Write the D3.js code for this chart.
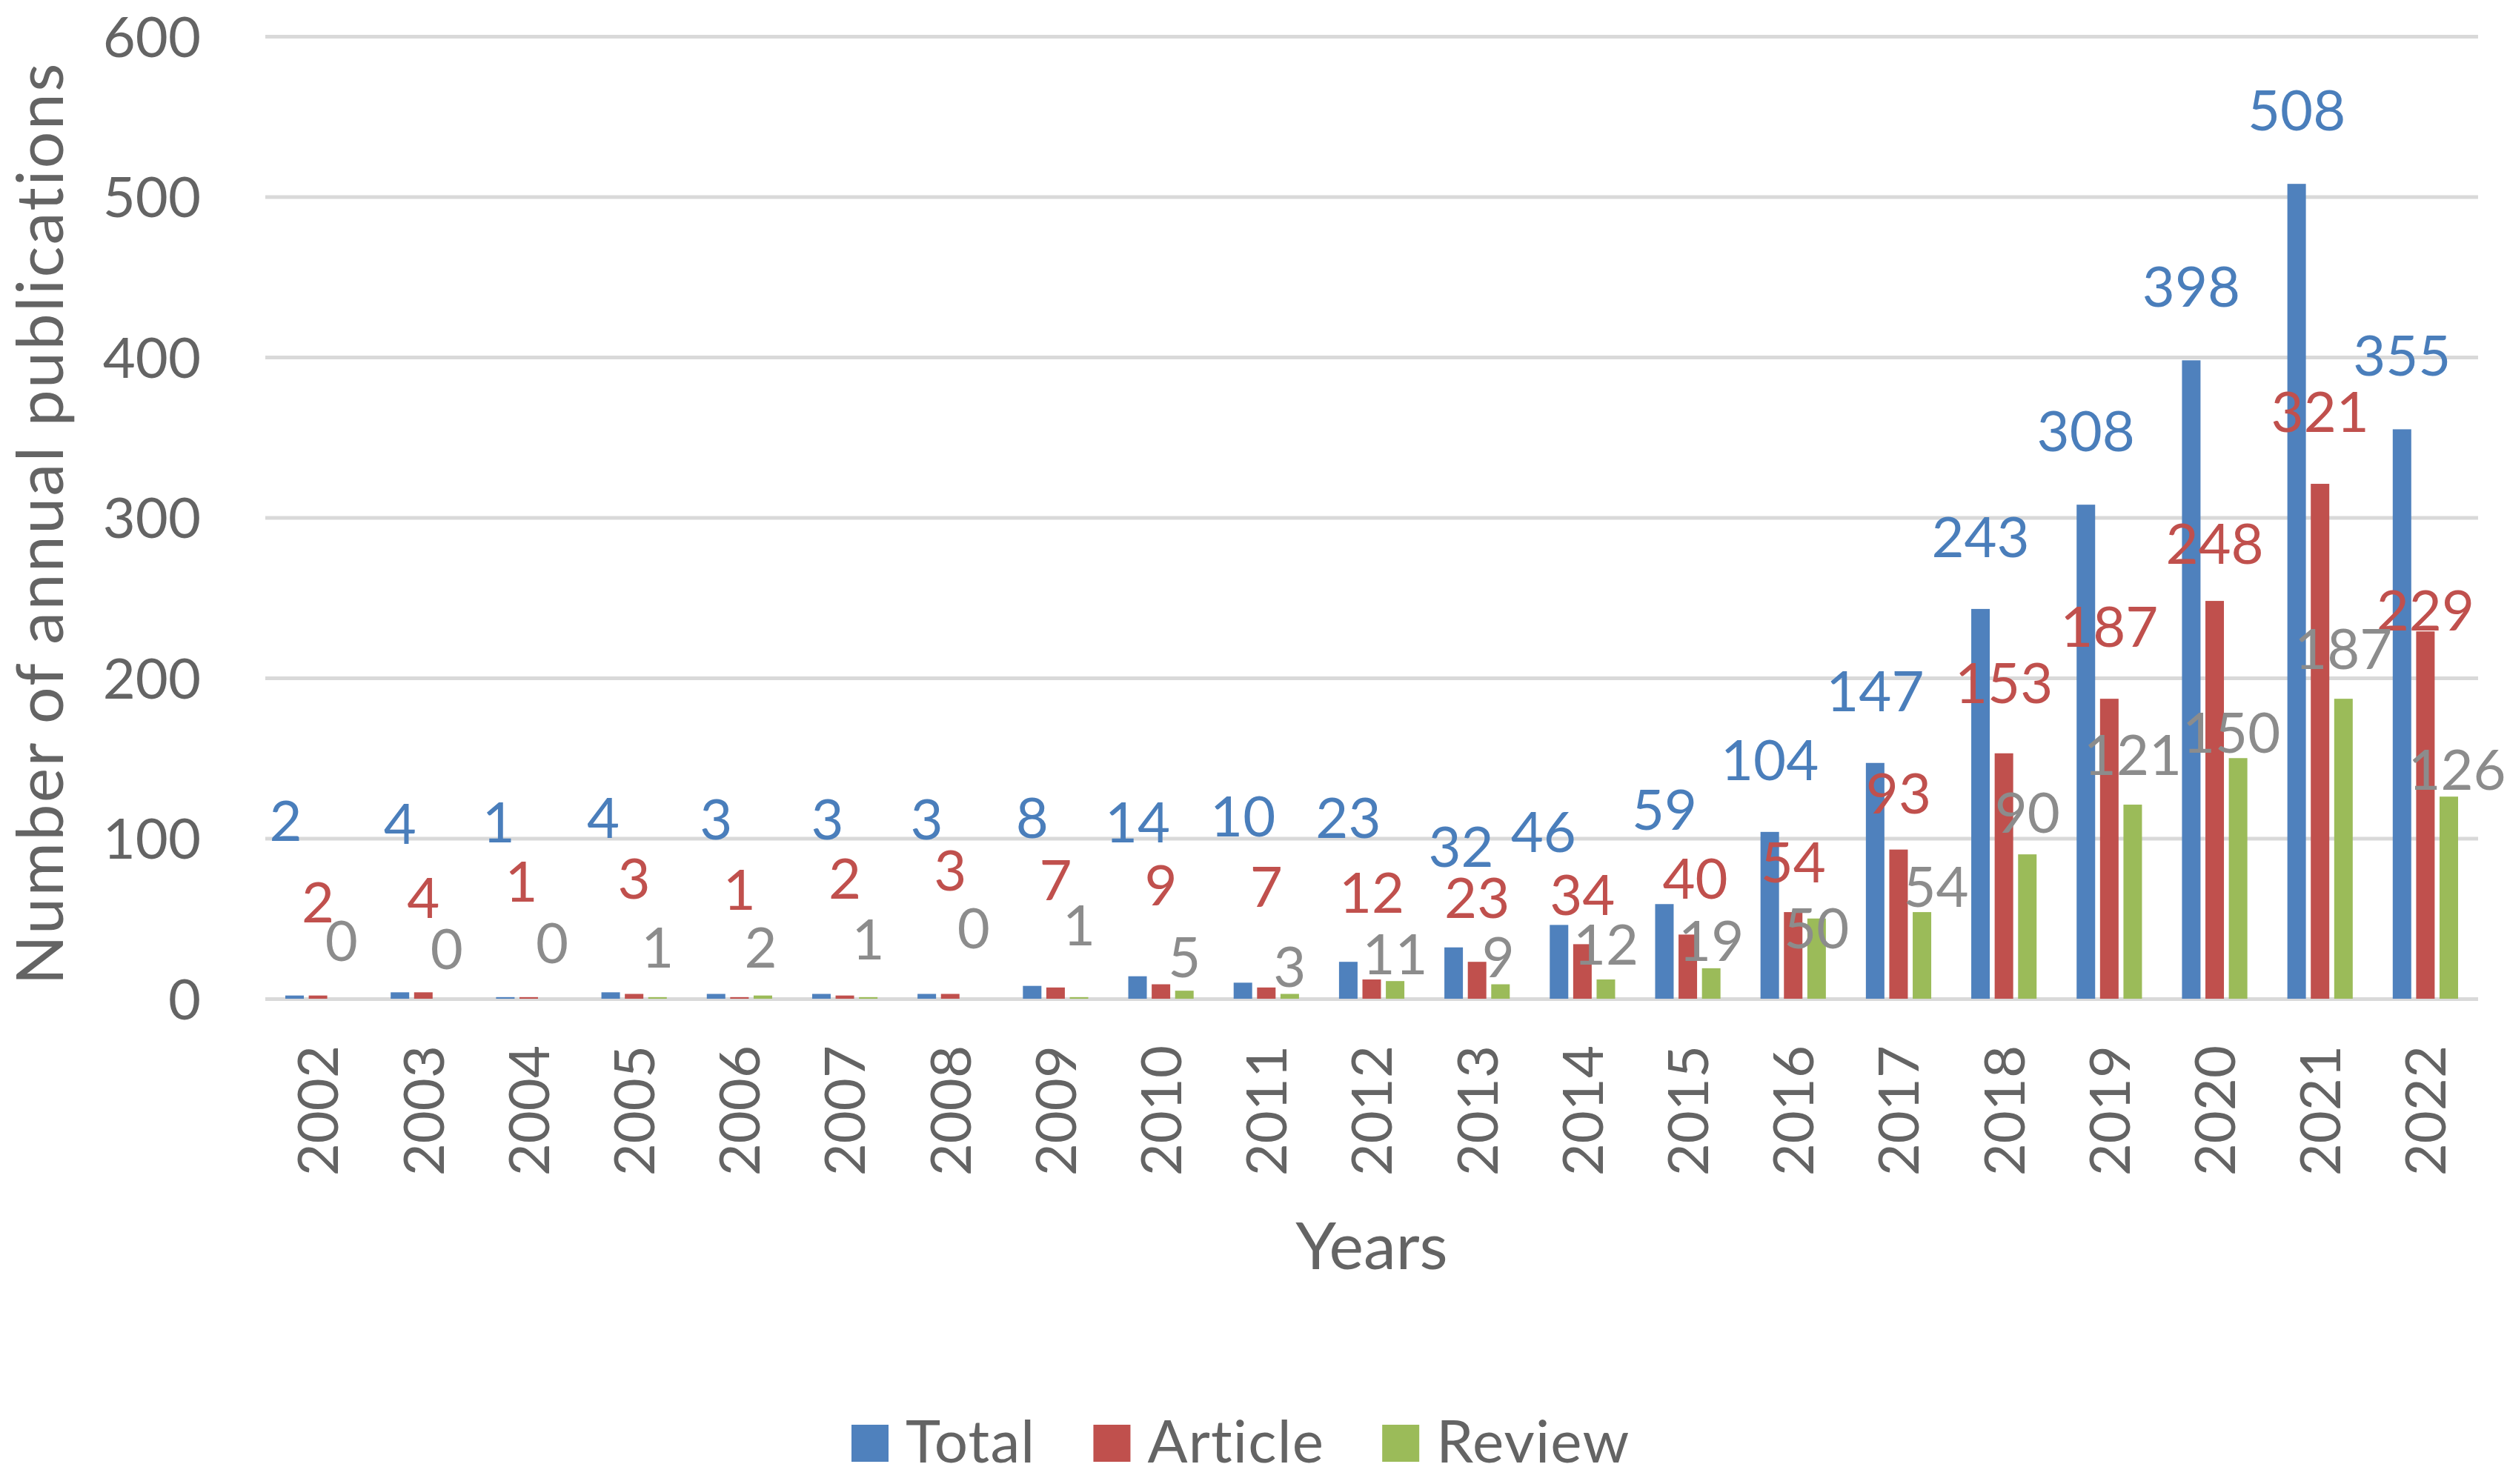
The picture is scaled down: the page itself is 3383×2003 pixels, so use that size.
<!DOCTYPE html>
<html>
<head>
<meta charset="utf-8">
<script src="https://cdn.jsdelivr.net/npm/d3@7/dist/d3.min.js"></script>
<style>
  html, body { margin: 0; padding: 0; background: #ffffff; }
  svg { display: block; }
  text { font-family: Lato, "Open Sans", "DejaVu Sans", sans-serif; }
</style>
</head>
<body>
<script>
// ---------------- data ----------------
const years = ["2002","2003","2004","2005","2006","2007","2008","2009","2010","2011","2012",
               "2013","2014","2015","2016","2017","2018","2019","2020","2021","2022"];
const totalValues   = [2,4,1,4,3,3,3,8,14,10,23,32,46,59,104,147,243,308,398,508,355];
const articleValues = [2,4,1,3,1,2,3,7,9,7,12,23,34,40,54,93,153,187,248,321,229];
const reviewValues  = [0,0,0,1,2,1,0,1,5,3,11,9,12,19,50,54,90,121,150,187,126];
const seriesNames   = ["Total","Article","Review"];
const yTicks        = [0,100,200,300,400,500,600];

// label anchor heights (in axis units) as the labels were placed in the original
const totalLabelAt   = [111,109,110,113,112,112,112,113,110,114,113,95,104,118,149,192,288,354,444,554,401];
const articleLabelAt = [60,63,73,75,68,75,80,74,71,70,66,63,65,75,85,128,197,232,284,366,242];
const reviewLabelAt  = [36,31,35,32,32,37,44,46,26,20,28,26,34,36,44,70,116,152,166,218,143];
// small horizontal nudges of individual labels (px)
const totalNudge   = [-12,0,-9,-10,0,8,0,0,0,0,0,10,-21,0,0,0,0,0,0,0,0];
const articleNudge = [0,0,-10,0,0,0,0,0,0,0,0,0,0,10,0,0,0,0,0,0,0];
const reviewNudge  = [0,0,0,0,-3,0,0,0,0,0,0,-3,0,0,0,19,0,0,-9,0,11];

// ---------------- layout / style ----------------
const W = 3383, H = 2003;
const plot = { left: 358, right: 3344, top: 49, bottom: 1348 };
const colors = { Total: "#4F81BD", Article: "#C0504D", Review: "#9BBB59" };
const labelColors = { Total: "#4A7EBB", Article: "#C0504D", Review: "#8C8C8C" };
const textGray = "#646464";
const gridGray = "#D9D9D9";
const fs = 76, titleFs = 88, legendFs = 80;

const series = [
  { name: "Total",   values: totalValues,   labelAt: totalLabelAt,   nudge: totalNudge },
  { name: "Article", values: articleValues, labelAt: articleLabelAt, nudge: articleNudge },
  { name: "Review",  values: reviewValues,  labelAt: reviewLabelAt,  nudge: reviewNudge }
];

const svg = d3.select("body").append("svg")
  .attr("width", W).attr("height", H)
  .attr("viewBox", `0 0 ${W} ${H}`);
svg.append("rect").attr("width", W).attr("height", H).attr("fill", "#fff");

const x0 = d3.scaleBand().domain(years).range([plot.left, plot.right]).padding(0);
const groupW = x0.bandwidth() * 0.6667;
const x1 = d3.scaleBand().domain(seriesNames).range([0, groupW])
  .paddingInner(0.209).paddingOuter(0.1045);
const groupOffset = (x0.bandwidth() - groupW) / 2;
const y = d3.scaleLinear().domain([0, 600]).range([plot.bottom, plot.top]);

// y axis with gridlines
const yAxis = svg.append("g")
  .attr("transform", `translate(${plot.left},0)`)
  .call(d3.axisLeft(y).tickValues(yTicks).tickSize(-(plot.right - plot.left)).tickPadding(87));
yAxis.select(".domain").remove();
yAxis.selectAll(".tick line").attr("stroke", gridGray).attr("stroke-width", 5);
yAxis.selectAll(".tick text")
  .attr("fill", textGray).attr("font-size", fs).attr("dy", "0.36em")
  .style("font-family", "Lato, 'Open Sans', sans-serif");

// x axis labels (rotated)
const xAxis = svg.append("g")
  .attr("transform", `translate(0,${plot.bottom})`)
  .call(d3.axisBottom(x0).tickSize(0));
xAxis.select(".domain").remove();
xAxis.selectAll(".tick text")
  .attr("x", 0).attr("y", 0).attr("dy", "0.36em")
  .attr("text-anchor", "end")
  .attr("transform", "translate(0,63) rotate(-90)")
  .attr("fill", textGray).attr("font-size", fs)
  .style("font-family", "Lato, 'Open Sans', sans-serif");

// bars
const barX = (s, i) => x0(years[i]) + groupOffset + x1(s.name);
series.forEach(s => {
  svg.append("g").selectAll("rect")
    .data(s.values)
    .join("rect")
    .attr("x", (d, i) => barX(s, i))
    .attr("width", x1.bandwidth())
    .attr("y", d => y(d))
    .attr("height", d => y(0) - y(d))
    .attr("fill", colors[s.name]);
});

// data labels
series.forEach(s => {
  svg.append("g").selectAll("text")
    .data(s.values)
    .join("text")
    .attr("x", (d, i) => barX(s, i) + x1.bandwidth() / 2 + s.nudge[i])
    .attr("y", (d, i) => y(s.labelAt[i]))
    .attr("dy", "0.36em")
    .attr("text-anchor", "middle")
    .attr("font-size", fs)
    .attr("fill", labelColors[s.name])
    .text(d => d);
});

// axis titles
svg.append("text")
  .attr("transform", `translate(85,${(plot.top + plot.bottom) / 2 + 8}) rotate(-90)`)
  .attr("text-anchor", "middle")
  .attr("font-size", titleFs)
  .attr("letter-spacing", 2.3)
  .attr("fill", textGray)
  .text("Number of annual publications");

svg.append("text")
  .attr("x", (plot.left + plot.right) / 2)
  .attr("y", 1713)
  .attr("text-anchor", "middle")
  .attr("font-size", titleFs)
  .attr("fill", textGray)
  .text("Years");

// legend
const legend = svg.append("g");
let lx = 1149;
seriesNames.forEach(name => {
  legend.append("rect")
    .attr("x", lx).attr("y", 1923)
    .attr("width", 50).attr("height", 50)
    .attr("fill", colors[name]);
  const t = legend.append("text")
    .attr("x", lx + 73).attr("y", 1974)
    .attr("font-size", legendFs)
    .attr("letter-spacing", 1.2)
    .attr("fill", textGray)
    .text(name);
  lx = lx + 73 + t.node().getComputedTextLength() + 78;
});
</script>
</body>
</html>
